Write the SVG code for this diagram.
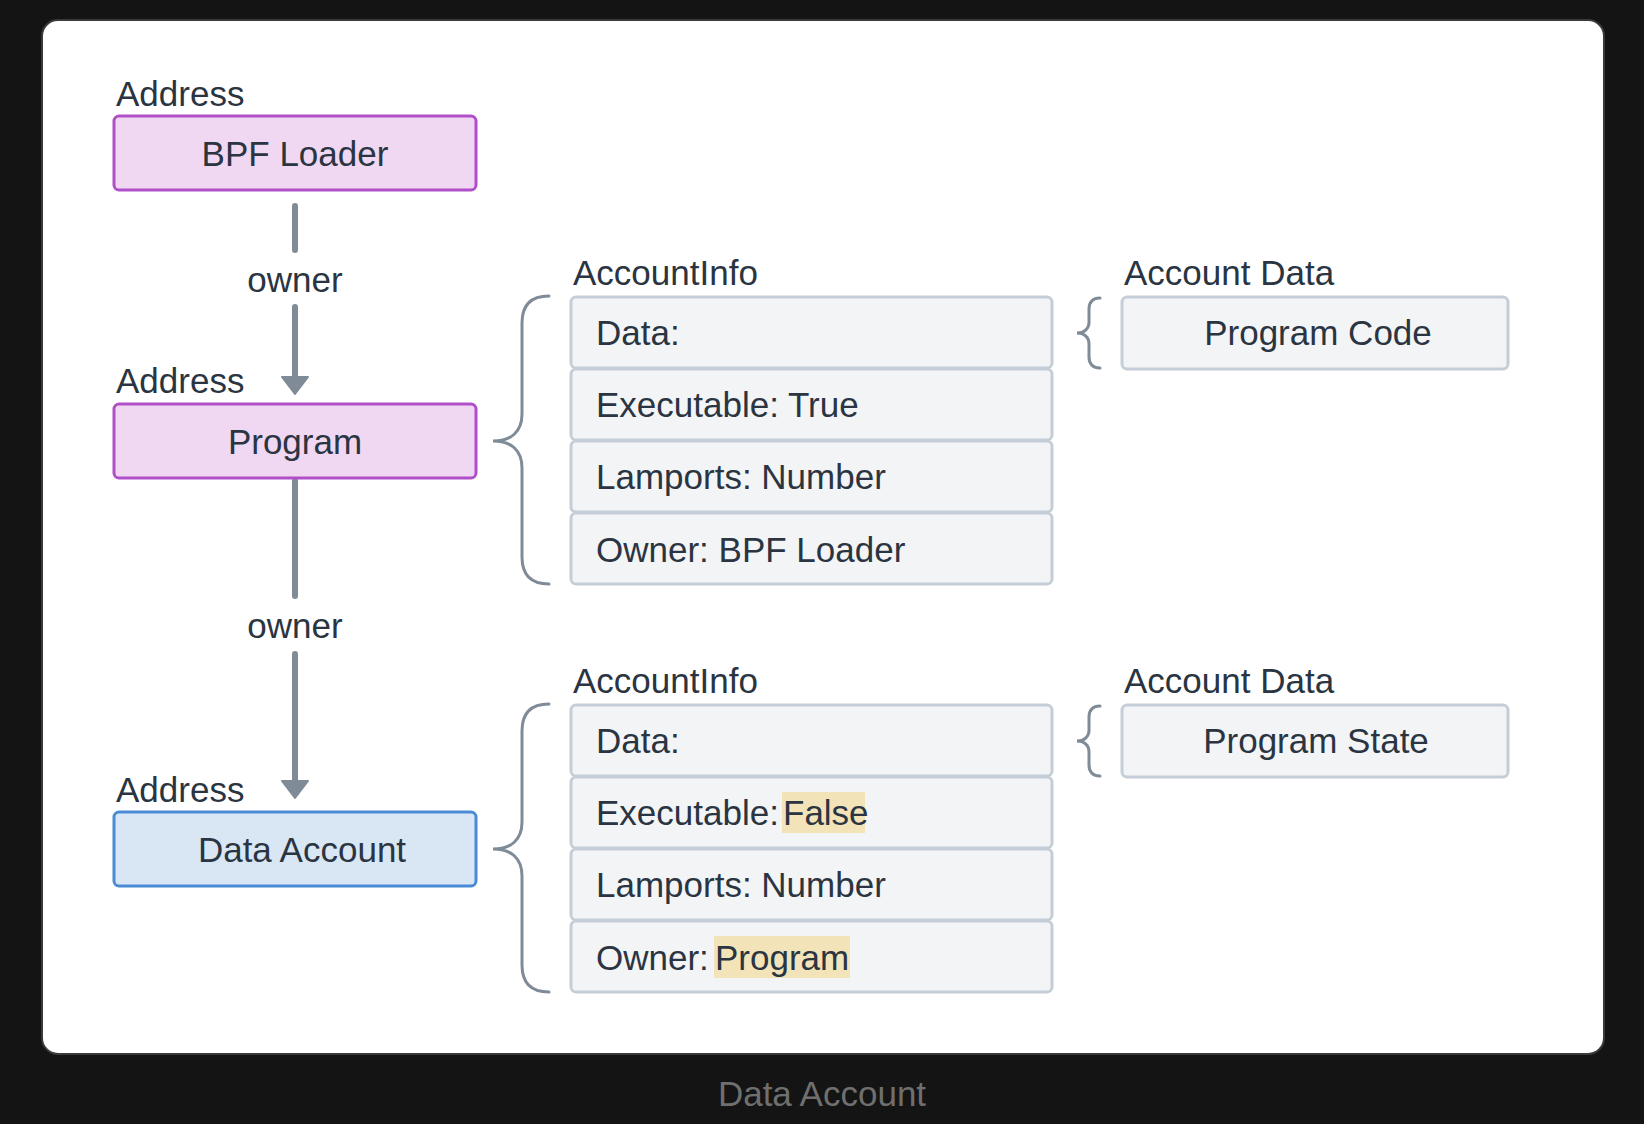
<svg xmlns="http://www.w3.org/2000/svg" width="1644" height="1124" viewBox="0 0 1644 1124">
<defs>
<style>
text{font-family:"Liberation Sans",Arial,sans-serif;font-size:35px;fill:#2b3542}
.c{text-anchor:middle}
.purple{fill:#f0d8f3;stroke:#b14fc9;stroke-width:3}
.blue{fill:#d9e7f5;stroke:#4a8bd6;stroke-width:3}
.row{fill:#f3f4f6;stroke:#c5ced8;stroke-width:3}
.hl{fill:#f3e3b9}
.brace{fill:none;stroke:#7f8b97;stroke-width:3;stroke-linecap:round}
.conn{stroke:#7f8b97;stroke-width:6;stroke-linecap:round;fill:none}
.cap{fill:#6f6f6f}
</style>
<marker id="arr" markerUnits="userSpaceOnUse" markerWidth="20" markerHeight="28" viewBox="0 0 20 28" refX="1" refY="14" orient="auto">
<path d="M1,1 L18,14 L1,27 Z" fill="#7f8b97" stroke="#7f8b97" stroke-width="2" stroke-linejoin="round"/>
</marker>
</defs>
<rect width="1644" height="1124" fill="#141414"/>
<rect x="42" y="20" width="1562" height="1034" rx="16" fill="#ffffff" stroke="#3a3a3a" stroke-width="2"/>

<g id="connectors">
<line class="conn" x1="295" y1="206" x2="295" y2="250"/>
<line class="conn" x1="295" y1="307" x2="295" y2="377" marker-end="url(#arr)"/>
<text class="c" x="295" y="292">owner</text>
<line class="conn" x1="295" y1="481" x2="295" y2="596"/>
<line class="conn" x1="295" y1="654" x2="295" y2="781" marker-end="url(#arr)"/>
<text class="c" x="295" y="638">owner</text>
</g>

<g id="bpf-loader">
<text x="116" y="106">Address</text>
<rect class="purple" x="114" y="116" width="362" height="74" rx="5"/>
<text class="c" x="295" y="166">BPF Loader</text>
</g>

<g id="program">
<text x="116" y="393">Address</text>
<rect class="purple" x="114" y="404" width="362" height="74" rx="5"/>
<text class="c" x="295" y="454">Program</text>
</g>

<g id="data-account">
<text x="116" y="802">Address</text>
<rect class="blue" x="114" y="812" width="362" height="74" rx="5"/>
<text class="c" x="302" y="862">Data Account</text>
</g>

<g id="program-accountinfo">
<path class="brace" d="M549,296 C531,296 522,305 522,323 L522,414 C522,432 511,441 493,441 C511,441 522,450 522,468 L522,557 C522,575 531,584 549,584"/>
<text x="573" y="285">AccountInfo</text>
<rect class="row" x="571" y="297" width="481" height="71" rx="5"/>
<text x="596" y="345">Data:</text>
<rect class="row" x="571" y="369" width="481" height="71" rx="5"/>
<text x="596" y="417">Executable: True</text>
<rect class="row" x="571" y="441" width="481" height="71" rx="5"/>
<text x="596" y="489">Lamports: Number</text>
<rect class="row" x="571" y="513" width="481" height="71" rx="5"/>
<text x="596" y="562">Owner: BPF Loader</text>
</g>

<g id="program-account-data">
<path class="brace" d="M1100,298 C1093,298 1089,302 1089,309 L1089,322 C1089,329 1084,333 1077,333 C1084,333 1089,337 1089,344 L1089,357 C1089,364 1093,368 1100,368"/>
<text x="1124" y="285">Account Data</text>
<rect class="row" x="1122" y="297" width="386" height="72" rx="5"/>
<text class="c" x="1318" y="345">Program Code</text>
</g>

<g id="data-accountinfo">
<path class="brace" d="M549,704 C531,704 522,713 522,731 L522,822 C522,840 511,849 493,849 C511,849 522,858 522,876 L522,965 C522,983 531,992 549,992"/>
<text x="573" y="693">AccountInfo</text>
<rect class="row" x="571" y="705" width="481" height="71" rx="5"/>
<text x="596" y="753">Data:</text>
<rect class="row" x="571" y="777" width="481" height="71" rx="5"/>
<rect class="hl" x="782" y="792" width="83" height="41"/>
<text x="596" y="825">Executable:<tspan x="783">False</tspan></text>
<rect class="row" x="571" y="849" width="481" height="71" rx="5"/>
<text x="596" y="897">Lamports: Number</text>
<rect class="row" x="571" y="921" width="481" height="71" rx="5"/>
<rect class="hl" x="714" y="936" width="136" height="42"/>
<text x="596" y="970">Owner:<tspan x="715">Program</tspan></text>
</g>

<g id="data-account-data">
<path class="brace" d="M1100,706 C1093,706 1089,710 1089,717 L1089,730 C1089,737 1084,741 1077,741 C1084,741 1089,745 1089,752 L1089,765 C1089,772 1093,776 1100,776"/>
<text x="1124" y="693">Account Data</text>
<rect class="row" x="1122" y="705" width="386" height="72" rx="5"/>
<text class="c" x="1316" y="753">Program State</text>
</g>

<text class="c cap" x="822" y="1106">Data Account</text>
</svg>
